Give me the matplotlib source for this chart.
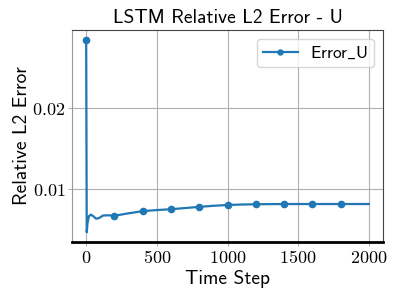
"""
Relative L2 error of the LSTM model for U over the time steps.
"""
import matplotlib
matplotlib.use('Agg')
import matplotlib.pyplot as plt
from matplotlib.ticker import FuncFormatter

# time steps and relative L2 error
STEPS = [0, 4, 10, 20, 33, 50, 70, 90, 120, 160, 200, 300, 400, 500, 600,
         700, 800, 900, 1000, 1100, 1200, 1300, 1400, 1500, 1600, 1700,
         1800, 1900, 1999]
ERROR_U = [0.0285, 0.0046, 0.0058, 0.0066, 0.00678, 0.0066, 0.00628,
           0.00635, 0.00668, 0.0067, 0.00665, 0.00695, 0.00722, 0.00735,
           0.00746, 0.0076, 0.00775, 0.00788, 0.00798, 0.00804, 0.00807,
           0.00809, 0.0081, 0.0081, 0.0081, 0.0081, 0.0081, 0.0081, 0.0081]
X_TICKS = [0, 500, 1000, 1500, 2000]
Y_TICKS = [0.01, 0.02]
# a marker every 200 steps
MARK_EVERY = 200

plt.rcParams['mathtext.fontset'] = 'cm'
SANS = ['cmss10', 'DejaVu Sans']

fig = plt.figure(figsize=(3.98, 2.99), dpi=100)
ax = fig.add_axes([0.181, 0.191, 0.781, 0.709])

marks = [i for i, s in enumerate(STEPS) if s % MARK_EVERY == 0]
ax.plot(STEPS, ERROR_U, color='#1f77b4', lw=1.6, marker='o', ms=4.5,
        markevery=marks, label=r'$\mathsf{Error\_U}$')

ax.set_title('LSTM Relative L2 Error - U', fontsize=14, family=SANS, pad=5)
ax.set_xlabel('Time Step', fontsize=14, family=SANS, labelpad=2)
ax.set_ylabel('Relative L2 Error', fontsize=14, family=SANS, labelpad=1)

# tick labels in computer modern, like LaTeX output
ax.set_xticks(X_TICKS)
ax.set_yticks(Y_TICKS)
ax.xaxis.set_major_formatter(FuncFormatter(lambda v, p: '$%g$' % v))
ax.yaxis.set_major_formatter(FuncFormatter(lambda v, p: '$%g$' % v))
ax.tick_params(labelsize=13, length=3, width=0.8, color='#b0b0b0', pad=2)
ax.grid(True, color='#b0b0b0', lw=0.8)

ax.spines['bottom'].set_color('black')
ax.spines['bottom'].set_linewidth(2)
ax.spines['left'].set_color('#999999')
ax.spines['top'].set_color('#444444')
ax.spines['right'].set_color('#444444')

ax.legend(loc='upper right', prop={'family': SANS, 'size': 12.5},
          fancybox=True, framealpha=0.8, borderaxespad=0.5,
          borderpad=0.35, handlelength=2.0, handletextpad=0.7,
          markerscale=0.8)

plt.savefig('out.png', dpi=100)
